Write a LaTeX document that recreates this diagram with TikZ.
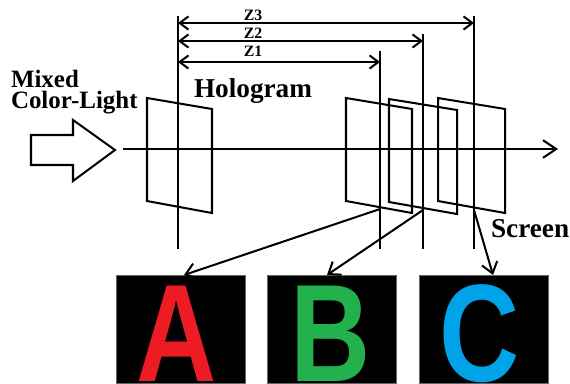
\documentclass[tikz,border=0pt]{standalone}
\usepackage{fontspec}
\setmainfont{Liberation Serif}
\newfontfamily\lettersf{Liberation Sans}
\usetikzlibrary{arrows.meta}
\definecolor{letterred}{HTML}{ED1C24}
\definecolor{lettergreen}{HTML}{22B14C}
\definecolor{letterblue}{HTML}{00A2E8}
\tikzset{
	every path/.style={line width=1.15pt},
	plane/.style={draw},
	dim/.style={{Straight Barb[length=5pt,width=7.5pt]}-{Straight Barb[length=5pt,width=7.5pt]}},
	ray/.style={-{Straight Barb[length=6pt,width=9pt]}},
	lbl/.style={font=\fontsize{14.2}{15}\selectfont\bfseries,inner sep=0pt},
	holbl/.style={font=\fontsize{15.5}{16}\selectfont\bfseries,inner sep=0pt},
	zlbl/.style={font=\fontsize{9}{10}\selectfont\bfseries,inner sep=0pt},
	imgbox/.style={fill=black,draw=black!60,line width=.3pt,minimum width=129*.02cm,minimum height=108*.02cm,inner sep=0pt},
	bigletter/.style={font=\lettersf\bfseries\fontsize{79}{79}\selectfont,inner sep=0pt,xscale=.8,transform shape,anchor=base}
}
\begin{document}
\begin{tikzpicture}[line join=miter,line cap=butt,x=.02cm,y=-.02cm]
	\useasboundingbox (0,0) rectangle (570,383);
	% planes
	\foreach \p/\a/\b/\t in {holo/147/212/98,scrA/346/412/98,scrB/389/457/99,scrC/438/505/98}
		\draw[plane] (\a,\t) coordinate (\p a)--(\b,\t+11)--(\b,\t+115)coordinate (\p c)--(\a,\t+103)--cycle;
	% axis and the big arrow
	\coordinate (axisL) at (123,149);
	\coordinate (axisR) at (558,149);
	\draw[-{Straight Barb[length=7.5pt,width=10pt]}] (axisL)--(axisR);
	\draw (31,135)--(73,135)--(73,120)--(115,150)--(73,181)--(73,165)--(31,165)--cycle;
	% verticals
	\foreach \n/\x/\t in {h/178/16,za/380/51,zb/423/34,zc/474/16}{
		\coordinate (\n t) at (\x,\t);
		\coordinate (\n b) at (\x,249);
		\draw (\n t)--(\n b);
	}
	% distances
	\foreach \n/\y/\l/\ly in {za/62/Z1/51,zb/41/Z2/33,zc/23/Z3/15}{
		\coordinate (\n L) at (178,\y);
		\coordinate (\n R) at (\n t |- \n L);
		\draw[dim] (\n L)--(\n R);
		\node[zlbl] (\n lab) at (253,\ly) {\l};
	}
	% texts
	\node[lbl,anchor=base west] (mixed) at (10,87) {Mixed};
	\node[lbl,anchor=base west] (color) at (10,108) {Color-Light};
	\node[holbl,anchor=base west] (holo) at (193,97) {Hologram};
	\node[holbl,anchor=base west] (screen) at (490,237) {Screen};
	% images
	\foreach \n/\x/\lx/\c in {A/180.5/177/letterred,B/331.5/331/lettergreen,C/483.5/480/letterblue}{
		\node[imgbox] (box\n) at (\x,329) {};
		\node[bigletter,text=\c] (let\n) at (\lx,381) {\n};
	}
	\coordinate (footA) at (380,209);
	\coordinate (footB) at (423,210);
	\coordinate (footC) at (474,210);
	\draw[ray] (footA)--(184,275);
	\draw[ray] (footB)--(327,275);
	\draw[ray] (footC)--(493,275);
\end{tikzpicture}
\end{document}
